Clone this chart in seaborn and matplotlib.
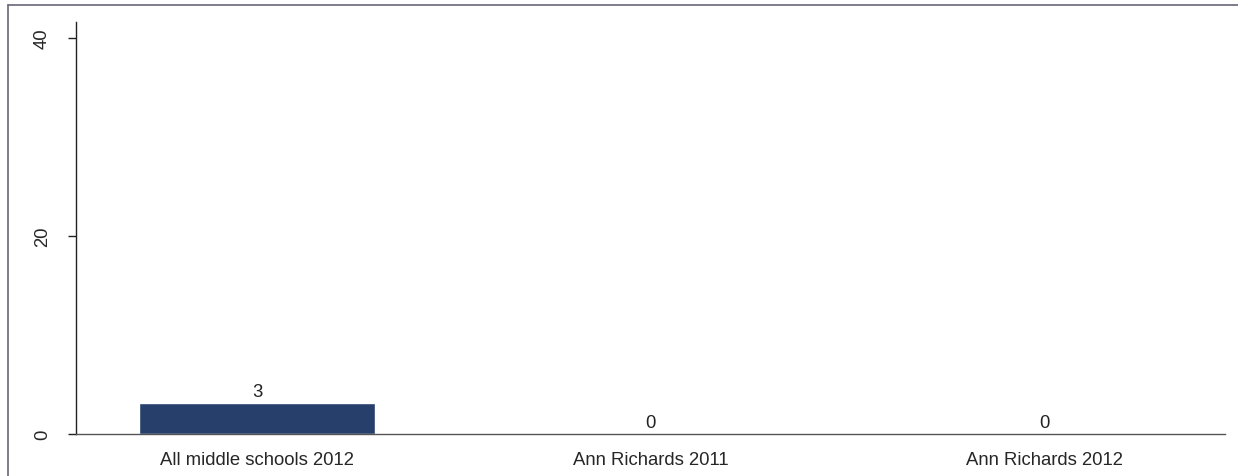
import matplotlib
matplotlib.use("Agg")
import matplotlib.pyplot as plt
from matplotlib.lines import Line2D
import seaborn as sns
import pandas as pd

# ── Data ──────────────────────────────────────────────────
categories = ["All middle schools 2012", "Ann Richards 2011", "Ann Richards 2012"]
values = [3.1, 0, 0]
bar_labels = ["3", "0", "0"]
y_ticks = [0, 20, 40]

df = pd.DataFrame({"group": categories, "value": values})

# ── Style ─────────────────────────────────────────────────
sns.set_theme(style="white")
plt.rcParams["font.family"] = ["Liberation Sans", "DejaVu Sans"]

W, H = 1238, 477
FS = 13.3
fig = plt.figure(figsize=(W / 100, H / 100), dpi=100)
ax = fig.add_axes([76 / W, (H - 435) / H, (1225 - 76) / W, (435 - 23) / H])

sns.barplot(data=df, x="group", y="value", color="#263f6b", saturation=1,
            width=0.6, ax=ax)

for i, lab in enumerate(bar_labels):
    ax.text(i, values[i] + 0.35, lab, ha="center", va="bottom", fontsize=FS, color="#222222")

ax.set_xlim(-0.46, 2.46)
ax.set_ylim(0, 41.6)
ax.set_yticks(y_ticks)
ax.set_yticklabels([str(t) for t in y_ticks], rotation=90, va="center", fontsize=FS)
ax.tick_params(axis="y", length=6, width=1, color="#222222", pad=12, left=True)
ax.tick_params(axis="x", length=0, pad=12, labelsize=FS)
ax.set_xlabel("")
ax.set_ylabel("")

for side in ["top", "right"]:
    ax.spines[side].set_visible(False)
ax.spines["left"].set_color("#222222")
ax.spines["bottom"].set_color("#555555")
ax.spines["left"].set_linewidth(1)
ax.spines["bottom"].set_linewidth(1)

# outer frame lines (top and left)
fig.add_artist(Line2D([8 / W, 1], [1 - 6 / H, 1 - 6 / H], color="#666677", lw=1.2))
fig.add_artist(Line2D([8 / W, 8 / W], [0, 1 - 6 / H], color="#666677", lw=1.2))

fig.savefig("out.png", dpi=100)
